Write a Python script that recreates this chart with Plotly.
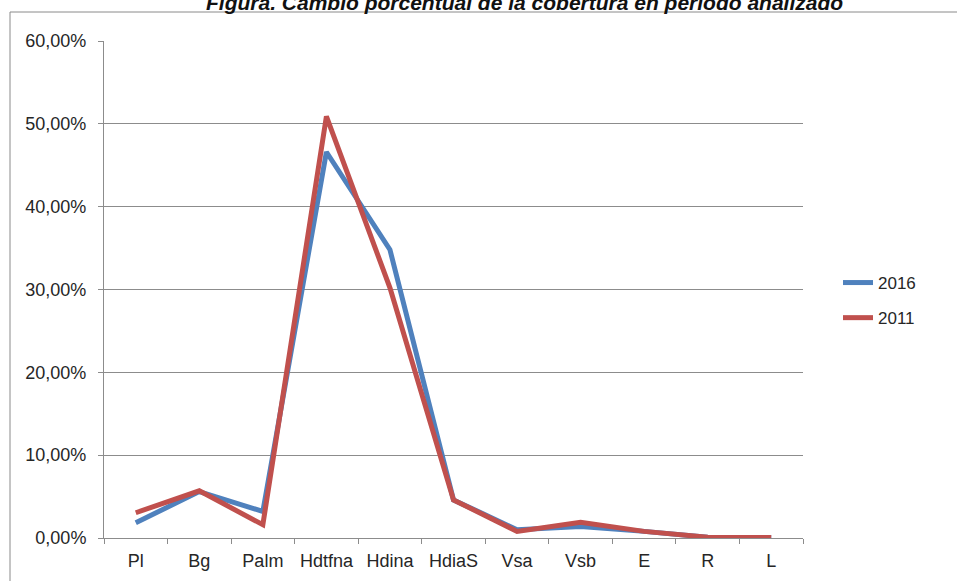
import plotly.graph_objects as go

categories = ["Pl", "Bg", "Palm", "Hdtfna", "Hdina", "HdiaS", "Vsa", "Vsb", "E", "R", "L"]
serie_2016 = [0.0185, 0.056, 0.032, 0.466, 0.348, 0.046, 0.010, 0.014, 0.008, 0.001, 0.0005]
serie_2011 = [0.0305, 0.057, 0.016, 0.509, 0.302, 0.046, 0.008, 0.019, 0.008, 0.001, 0.0005]
y_ticks = [0, 0.1, 0.2, 0.3, 0.4, 0.5, 0.6]
title_text = "Figura. Cambio porcentual de la cobertura en período analizado"

W, H = 957, 581
L, R, T, B = 104, 803, 41, 538
pw, ph = R - L, B - T

def px_x(x):
    return (x - L) / pw

def px_y(y):
    return (B - y) / ph

FONT = "Liberation Sans, Arial, sans-serif"
TXT = "#262626"
GRID = "#8c8c8c"

fig = go.Figure()
fig.add_trace(go.Scatter(x=categories, y=serie_2016, mode="lines", name="2016",
                         line=dict(color="#4F81BD", width=5), legendgroup="a"))
fig.add_trace(go.Scatter(x=categories, y=serie_2011, mode="lines", name="2011",
                         line=dict(color="#C0504D", width=5), legendgroup="b"))

fig.update_layout(
    width=W, height=H,
    margin=dict(l=L, r=W - R, t=T, b=H - B, pad=0, autoexpand=False),
    paper_bgcolor="white", plot_bgcolor="white",
    separators=",.",
    font=dict(family=FONT, size=17, color=TXT),
    showlegend=True,
    legend=dict(x=px_x(838), y=px_y(265), xanchor="left", yanchor="top",
                traceorder="grouped", tracegroupgap=10,
                font=dict(size=17, color=TXT), bgcolor="rgba(0,0,0,0)",
                itemwidth=30),
    xaxis=dict(type="category", range=[-0.5, 10.5], showgrid=False,
               showline=True, linecolor=GRID, linewidth=1,
               ticks="outside", ticklen=5, tickcolor=GRID, tickson="boundaries",
               tickfont=dict(size=18, color=TXT), ticklabelstandoff=6,
               automargin=False, fixedrange=True),
    yaxis=dict(range=[0, 0.6], tickvals=y_ticks, tickformat=".2%",
               showgrid=True, gridcolor=GRID, gridwidth=1,
               showline=True, linecolor=GRID, linewidth=1,
               ticks="outside", ticklen=5, tickcolor=GRID,
               tickfont=dict(size=18, color=TXT), zeroline=False,
               ticklabelstandoff=8, automargin=False, fixedrange=True),
    shapes=[dict(type="rect", xref="paper", yref="paper",
                 x0=px_x(10), x1=px_x(W + 20), y0=px_y(H + 20), y1=px_y(12),
                 line=dict(color="#8a8a8a", width=1), fillcolor="rgba(0,0,0,0)",
                 layer="below")],
    annotations=[dict(text="<b><i>" + title_text + "</i></b>", xref="paper", yref="paper",
                      x=px_x(524), y=px_y(3), xanchor="center", yanchor="middle",
                      showarrow=False, font=dict(size=21, color="#111111", family=FONT))],
)

fig.write_html("out.html", config={"displayModeBar": False},
               post_script="document.body.style.margin='0';")
